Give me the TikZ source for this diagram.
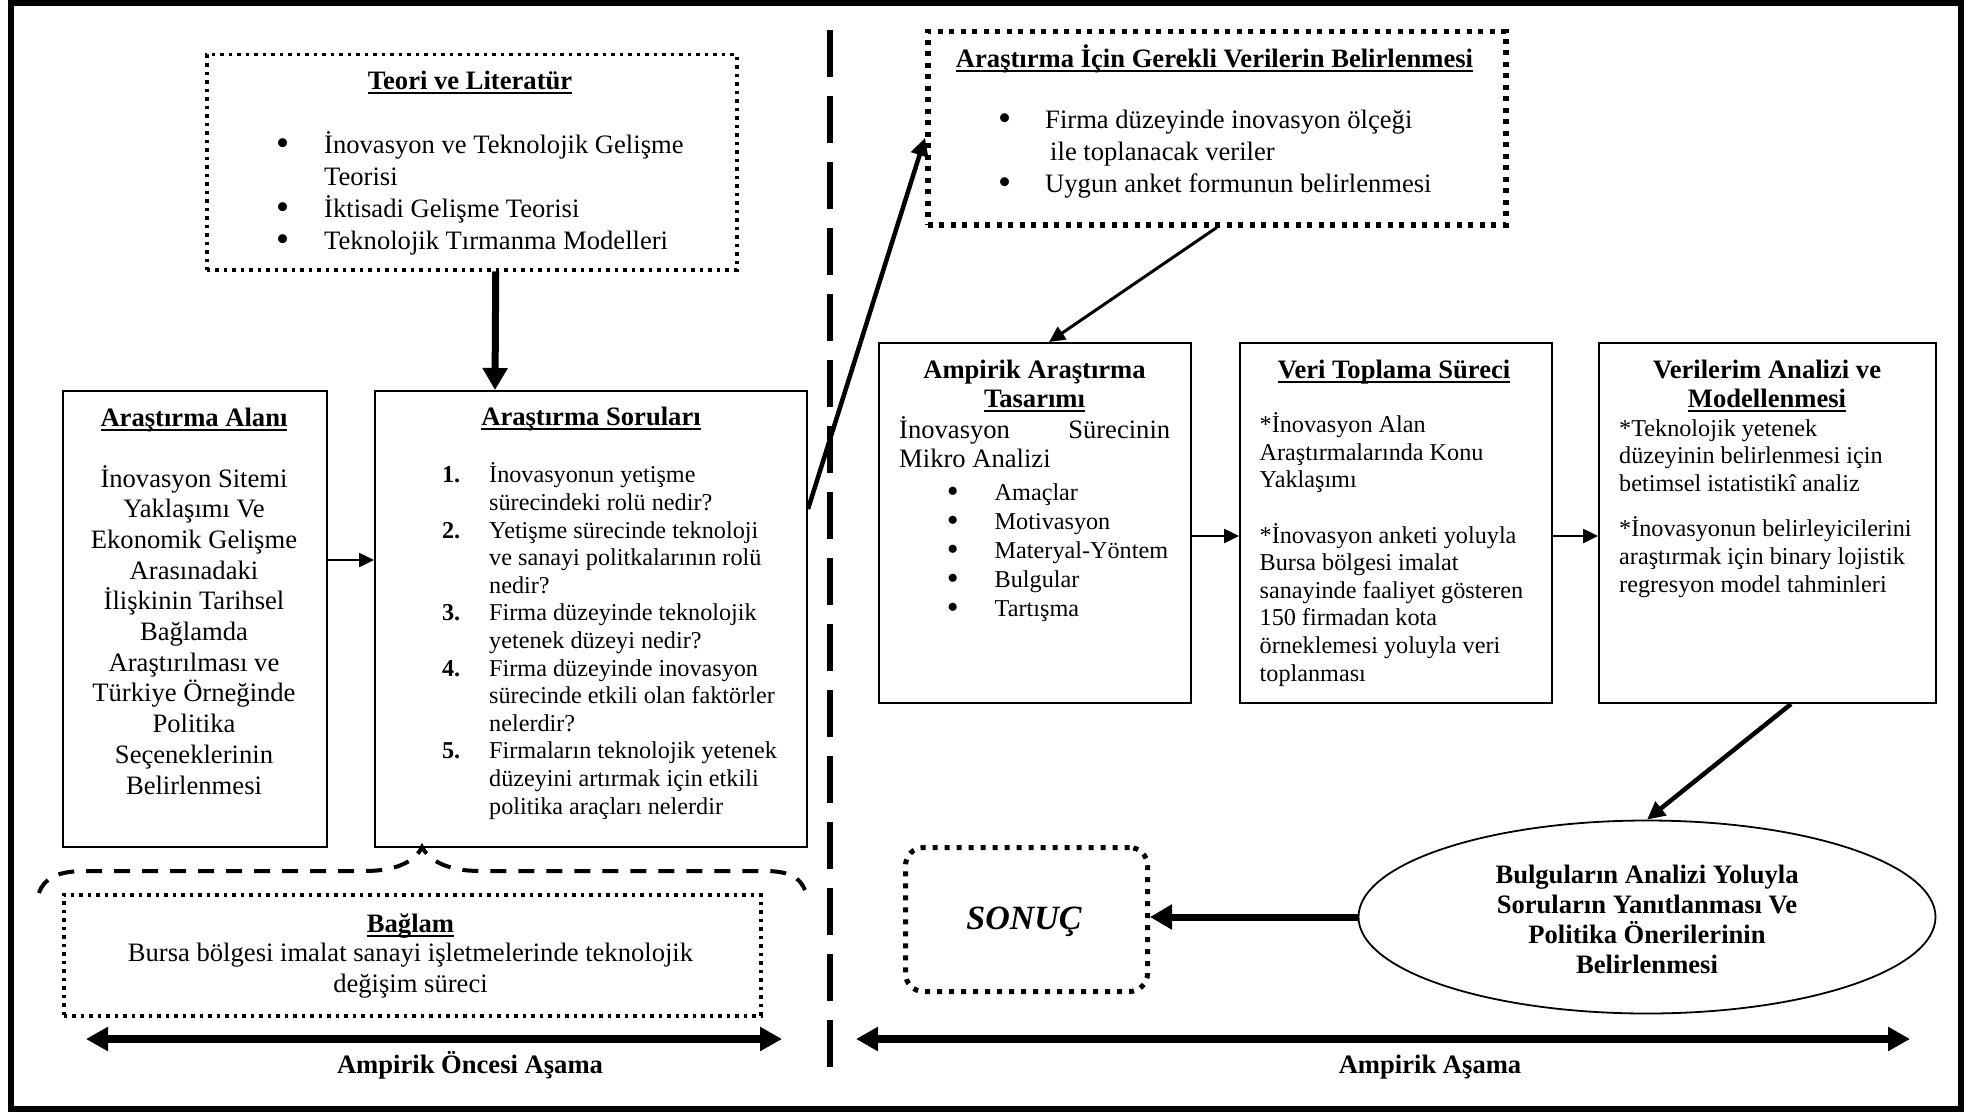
\documentclass[tikz,border=0pt]{standalone}
\usepackage{fontspec}
\usepackage{graphicx}
\setmainfont{Liberation Serif}
\usetikzlibrary{arrows.meta,shapes.geometric,calc}

% text sizes (picture units are 1pt)
\newcommand\bigtxt{\fontsize{26.6}{30.7}\selectfont}
\newcommand\smalltxt{\fontsize{24.2}{27.6}\selectfont}
% word-processor style underline
\newsavebox\ulbox
\newcommand\undl[1]{\sbox\ulbox{#1}\rlap{\rule[-4.5pt]{\wd\ulbox}{2pt}}\usebox\ulbox}
% list markers
\newcommand\bigdot{\raisebox{-0.11em}{\scalebox{1.4}{\textbullet}}}
\newcommand\itemdot[1]{\llap{\bigdot\hspace{#1}}}
\newcommand\qnum[1]{\llap{\textbf{#1}\hspace{29pt}}}

\begin{document}
\begin{tikzpicture}[x=1pt,y=-1pt,
  box/.style={draw, line width=2pt, inner sep=0pt, anchor=north west},
  dotbox/.style={draw, line width=3.5pt, dash pattern=on 3.5pt off 5pt, inner sep=0pt, anchor=north west},
  bigdotbox/.style={draw, line width=5.5pt, dash pattern=on 5pt off 6.5pt, inner sep=0pt, anchor=north west},
  txt/.style={inner sep=0pt, font=\bigtxt},
  ttl/.style={inner sep=0pt, anchor=base, font=\bigtxt\bfseries},
  thinarr/.style={line width=2.5pt, -{Triangle[length=15pt,width=14pt]}},
  medarr/.style={line width=4.5pt, -{Triangle[length=18pt,width=17pt]}},
  lightarr/.style={line width=3pt, -{Triangle[length=16pt,width=15pt]}},
  thickarr/.style={line width=7pt, -{Triangle[length=22pt,width=24pt]}},
  phase/.style={line width=8pt, {Triangle[length=22pt,width=23pt]}-{Triangle[length=22pt,width=23pt]}},
  brace/.style={line width=4pt, dash pattern=on 16pt off 12pt},
]
\useasboundingbox (0,0) rectangle (1977,1113);
\fill[white] (0,0) rectangle (1977,1113);

% outer frame
\draw[line width=6pt] (11,3) rectangle (1961,1109);

% separator between the two phases
\draw[line width=6pt, dash pattern=on 47pt off 19pt] (830,30) -- (830,1068);

% multi-line texts are placed by the baseline of their last line

% ---------- left half ----------
\node[dotbox, minimum width=530pt, minimum height=215pt] (teori) at (205,53) {};
\node[ttl] (teoriT) at (470,90) {\undl{Teori ve Literatür}};
\node[txt, anchor=base west, align=left, font=\fontsize{26.6}{32}\selectfont] (teoriL) at (324,249)
  {\itemdot{35pt}İnovasyon ve Teknolojik Gelişme\\Teorisi\\\itemdot{35pt}İktisadi Gelişme Teorisi\\\itemdot{35pt}Teknolojik Tırmanma Modelleri};

\node[box, minimum width=264pt, minimum height=456pt] (alan) at (62,390) {};
\node[ttl] (alanT) at (194,426) {\undl{Araştırma Alanı}};
\node[txt, anchor=base, align=center] (alanL) at (194,794)
  {İnovasyon Sitemi\\Yaklaşımı Ve\\Ekonomik Gelişme\\Arasınadaki\\İlişkinin Tarihsel\\Bağlamda\\Araştırılması ve\\Türkiye Örneğinde\\Politika\\Seçeneklerinin\\Belirlenmesi};

\node[box, minimum width=432pt, minimum height=456pt] (sorular) at (374,390) {};
\node[ttl] (sorularT) at (591,425) {\undl{Araştırma Soruları}};
\node[txt, anchor=base west, align=left, font=\smalltxt] (sorularL) at (489,814)
  {\qnum{1.}İnovasyonun yetişme\\sürecindeki rolü nedir?\\
   \qnum{2.}Yetişme sürecinde teknoloji\\ve sanayi politkalarının rolü\\nedir?\\
   \qnum{3.}Firma düzeyinde teknolojik\\yetenek düzeyi nedir?\\
   \qnum{4.}Firma düzeyinde inovasyon\\sürecinde etkili olan faktörler\\nelerdir?\\
   \qnum{5.}Firmaların teknolojik yetenek\\düzeyini artırmak için etkili\\politika araçları nelerdir};

% context brace under the research questions
\draw[brace] (39,893) .. controls (44,878) and (58,871) .. (85,871) -- (365,871)
  .. controls (395,871) and (415,862) .. (422,847)
  .. controls (430,862) and (450,871) .. (480,871) -- (765,871)
  .. controls (790,871) and (800,878) .. (805,890);

\node[dotbox, minimum width=697pt, minimum height=121pt] (baglam) at (62,893) {};
\node[ttl] (baglamT) at (410.5,932) {\undl{Bağlam}};
\node[txt, anchor=base, align=center] (baglamL) at (410.5,992)
  {Bursa bölgesi imalat sanayi işletmelerinde teknolojik\\değişim süreci};

% ---------- right half ----------
\node[bigdotbox, minimum width=578pt, minimum height=193pt] (gerekli) at (925,29) {};
\node[ttl] (gerekliT) at (1214.5,68) {\undl{Araştırma İçin Gerekli Verilerin Belirlenmesi}};
\node[txt, anchor=base west, align=left, font=\fontsize{26.6}{32}\selectfont] (gerekliL) at (1045,192)
  {\itemdot{34pt}Firma düzeyinde inovasyon ölçeği\\\hspace*{5pt}ile toplanacak veriler\\\itemdot{34pt}Uygun anket formunun belirlenmesi};

\node[box, minimum width=312pt, minimum height=360pt] (ampirik) at (878,342) {};
\node[ttl, align=center, font=\fontsize{26.6}{29}\selectfont\bfseries] (ampirikT) at (1034.5,407)
  {Ampirik Araştırma\\\undl{Tasarımı}};
\node[txt, anchor=base west, align=left, font=\fontsize{26.6}{29}\selectfont] (ampirikL) at (899,467)
  {\hbox to 271pt{İnovasyon\hfill Sürecinin}\\Mikro Analizi};
\node[txt, anchor=base west, align=left, font=\fontsize{24.2}{29}\selectfont] (ampirikB) at (994.5,616)
  {\itemdot{36pt}Amaçlar\\\itemdot{36pt}Motivasyon\\\itemdot{36pt}Materyal-Yöntem\\\itemdot{36pt}Bulgular\\\itemdot{36pt}Tartışma};

\node[box, minimum width=312pt, minimum height=360pt] (veri) at (1239,342) {};
\node[ttl] (veriT) at (1394,378) {\undl{Veri Toplama Süreci}};
\node[txt, anchor=base west, align=left, font=\smalltxt] (veriL) at (1259.5,681)
  {*İnovasyon Alan\\Araştırmalarında Konu\\Yaklaşımı\\[27.6pt]*İnovasyon anketi yoluyla\\Bursa bölgesi imalat\\sanayinde faaliyet gösteren\\150 firmadan kota\\örneklemesi yoluyla veri\\toplanması};

\node[box, minimum width=337pt, minimum height=360pt] (model) at (1598,342) {};
\node[ttl, align=center, font=\fontsize{26.6}{29}\selectfont\bfseries] (modelT) at (1767,407)
  {Verilerim Analizi ve\\\undl{Modellenmesi}};
\node[txt, anchor=base west, align=left, font=\smalltxt] (modelL) at (1619,592)
  {*Teknolojik yetenek\\düzeyinin belirlenmesi için\\betimsel istatistikî analiz\\[18pt]*İnovasyonun belirleyicilerini\\araştırmak için binary lojistik\\regresyon model tahminleri};

\node[draw, ellipse, line width=1.8pt, inner sep=0pt, minimum width=577pt, minimum height=193pt] (concl) at (1647,917) {};
\node[ttl, align=center, font=\fontsize{26.6}{30}\selectfont\bfseries] (conclT) at (1647,973)
  {Bulguların Analizi Yoluyla\\Soruların Yanıtlanması Ve\\Politika Önerilerinin\\Belirlenmesi};

\node[draw, line width=5pt, dash pattern=on 5pt off 7pt, rounded corners=18pt, inner sep=0pt, anchor=north west,
      minimum width=242pt, minimum height=144pt] (sonuc) at (903,845) {};
\node[inner sep=0pt, anchor=base, font=\fontsize{34}{40}\selectfont\bfseries\itshape] (sonucT) at (1024,929) {SONUÇ};

% ---------- connectors ----------
\draw[thickarr] ([xshift=24pt]teori.south) -- ([xshift=-96pt]sorular.north);
\draw[thinarr] ([yshift=59pt]alan.east) -- ([yshift=59pt]sorular.west);
\draw[medarr] ([yshift=110pt]sorular.east) -- ([yshift=-9.5pt]gerekli.west);
\draw[lightarr] (gerekli.south) -- ([xshift=14pt]ampirik.north);
\draw[thinarr] ([yshift=-13pt]ampirik.east) -- ([yshift=-13pt]veri.west);
\draw[thinarr] ([yshift=-13pt]veri.east) -- ([yshift=-13pt]model.west);
\draw[medarr] ([xshift=23.5pt]model.south) -- (concl.north);
\draw[thickarr] (concl.west) -- (sonuc.east |- concl.west);

% ---------- phase spans ----------
\coordinate (preL) at (86,1039);
\coordinate (preR) at (782,1039);
\coordinate (empL) at (856,1039);
\coordinate (empR) at (1910,1039);
\draw[phase] (preL) -- (preR);
\draw[phase] (empL) -- (empR);
\node[ttl] (preT) at (470,1073) {Ampirik Öncesi Aşama};
\node[ttl] (empT) at (1430,1073) {Ampirik Aşama};
\end{tikzpicture}
\end{document}
